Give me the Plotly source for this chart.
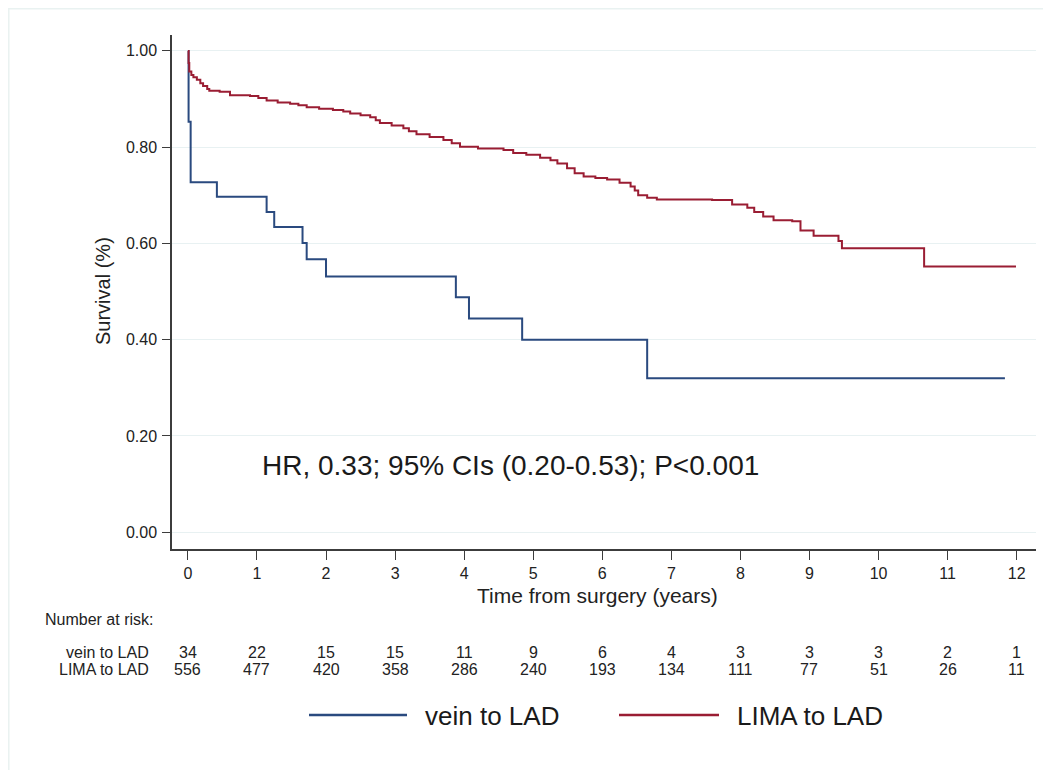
import plotly.graph_objects as go

# ---------------- data ----------------
vein_t = [0, 0.01, 0.04, 0.42, 1.14, 1.25, 1.66, 1.72, 2.0, 3.88, 4.07, 4.84, 6.65, 11.83]
vein_s = [1.0, 0.853, 0.727, 0.697, 0.665, 0.634, 0.601, 0.567, 0.531, 0.488, 0.444, 0.40, 0.32, 0.32]

lima_t = [0, 0.01, 0.02, 0.05, 0.08, 0.13, 0.18, 0.22, 0.28, 0.31, 0.46, 0.61, 0.90, 1.02, 1.14,
          1.30, 1.48, 1.60, 1.72, 1.90, 2.10, 2.25, 2.35, 2.50, 2.64, 2.72, 2.78, 2.95, 3.12,
          3.20, 3.31, 3.50, 3.70, 3.82, 3.94, 4.20, 4.57, 4.71, 4.90, 5.10, 5.25, 5.35, 5.49,
          5.60, 5.73, 5.90, 6.07, 6.25, 6.41, 6.47, 6.52, 6.65, 6.79, 7.59, 7.88, 8.10, 8.20,
          8.33, 8.48, 8.75, 8.87, 9.06, 9.42, 9.47, 10.63, 10.66, 11.99]
lima_s = [1.0, 0.975, 0.957, 0.950, 0.945, 0.940, 0.933, 0.927, 0.921, 0.917, 0.915, 0.908,
          0.906, 0.902, 0.897, 0.893, 0.890, 0.887, 0.883, 0.880, 0.877, 0.874, 0.870, 0.866,
          0.862, 0.856, 0.850, 0.845, 0.839, 0.833, 0.827, 0.821, 0.815, 0.808, 0.801, 0.797,
          0.794, 0.788, 0.784, 0.778, 0.773, 0.766, 0.756, 0.746, 0.739, 0.736, 0.733, 0.726,
          0.718, 0.710, 0.700, 0.695, 0.691, 0.690, 0.681, 0.674, 0.665, 0.656, 0.648, 0.646,
          0.627, 0.616, 0.605, 0.590, 0.590, 0.552, 0.552]

risk_times = [0, 1, 2, 3, 4, 5, 6, 7, 8, 9, 10, 11, 12]
risk_vein = [34, 22, 15, 15, 11, 9, 6, 4, 3, 3, 3, 2, 1]
risk_lima = [556, 477, 420, 358, 286, 240, 193, 134, 111, 77, 51, 26, 11]

y_ticks = [0.0, 0.2, 0.4, 0.6, 0.8, 1.0]
y_ticklabels = ["0.00", "0.20", "0.40", "0.60", "0.80", "1.00"]

series_names = ["vein to LAD", "LIMA to LAD"]
hr_text = "HR, 0.33; 95% CIs (0.20-0.53); P<0.001"

# ---------------- style ----------------
BLUE = "#2a4a7f"
RED = "#9a1d33"
AX = "#3c3c3c"
GRID = "#e8f1f2"
TXT = "#222222"
FONT = "Liberation Sans, Arial, Helvetica, sans-serif"

W, H = 1051, 770
OFF = 8  # page offset of the figure in the screenshot
L, T = 164, 27
R = W - (1036 - OFF)
B = H - (549 - OFF)
plot_w = W - L - R
plot_h = H - T - B


def xp(px):
    return ((px - OFF) - L) / plot_w


def yp(py):
    return ((H - B) - (py - OFF)) / plot_h


fig = go.Figure()
fig.add_trace(go.Scatter(x=vein_t, y=vein_s, mode="lines", line=dict(color=BLUE, width=2, shape="hv"),
                         name=series_names[0], showlegend=False))
fig.add_trace(go.Scatter(x=lima_t, y=lima_s, mode="lines", line=dict(color=RED, width=2, shape="hv"),
                         name=series_names[1], showlegend=False))

fig.update_layout(
    width=W, height=H,
    margin=dict(l=L, r=R, t=T, b=B),
    paper_bgcolor="white", plot_bgcolor="white",
    showlegend=False,
    font=dict(family=FONT, color=TXT),
)
fig.update_xaxes(
    range=[-0.23, 12.28], tickvals=risk_times, ticktext=[str(t) for t in risk_times],
    showgrid=False, zeroline=False, showline=True, linecolor=AX, linewidth=1.5,
    ticks="outside", ticklen=9, tickwidth=1.2, tickcolor=AX,
    tickfont=dict(family=FONT, size=16, color=TXT),
)
fig.update_yaxes(
    range=[-0.035, 1.033], tickvals=y_ticks, ticktext=y_ticklabels,
    showgrid=True, gridcolor=GRID, gridwidth=1.2, zeroline=False,
    showline=True, linecolor=AX, linewidth=1.5,
    ticks="outside", ticklen=8, tickwidth=1.2, tickcolor=AX,
    tickfont=dict(family=FONT, size=16, color=TXT), ticklabelstandoff=2,
)

ann = []
ann.append(dict(text="Survival (%)", xref="paper", yref="paper", x=xp(103), y=yp(291),
                showarrow=False, textangle=-90, font=dict(family=FONT, size=20, color=TXT),
                xanchor="center", yanchor="middle"))
ann.append(dict(text="Time from surgery (years)", xref="paper", yref="paper", x=xp(597), y=yp(595),
                showarrow=False, font=dict(family=FONT, size=21, color=TXT),
                xanchor="center", yanchor="middle"))
ann.append(dict(text=hr_text, xref="paper", yref="paper", x=xp(260), y=yp(465),
                showarrow=False, font=dict(family=FONT, size=28, color="#1a1a1a"),
                xanchor="left", yanchor="middle"))
ann.append(dict(text="Number at risk:", xref="paper", yref="paper", x=xp(43), y=yp(619),
                showarrow=False, font=dict(family=FONT, size=16, color=TXT),
                xanchor="left", yanchor="middle"))
for lab, py in [(series_names[0], 652), (series_names[1], 669)]:
    ann.append(dict(text=lab, xref="paper", yref="paper", x=xp(151), y=yp(py),
                    showarrow=False, font=dict(family=FONT, size=16, color=TXT),
                    xanchor="right", yanchor="middle"))
for t, v, l in zip(risk_times, risk_vein, risk_lima):
    ann.append(dict(text=str(v), xref="x", yref="paper", x=t, y=yp(652), showarrow=False,
                    font=dict(family=FONT, size=16, color=TXT), xanchor="center", yanchor="middle"))
    ann.append(dict(text=str(l), xref="x", yref="paper", x=t, y=yp(669), showarrow=False,
                    font=dict(family=FONT, size=16, color=TXT), xanchor="center", yanchor="middle"))

shapes = []
for (x0, x1, col, tx, name) in [(309, 407, BLUE, 423, series_names[0]), (619, 719, RED, 735, series_names[1])]:
    shapes.append(dict(type="line", xref="paper", yref="paper", x0=xp(x0), x1=xp(x1),
                       y0=yp(715), y1=yp(715), line=dict(color=col, width=2.5)))
    ann.append(dict(text=name, xref="paper", yref="paper", x=xp(tx), y=yp(716),
                    showarrow=False, font=dict(family=FONT, size=26, color="#1a1a1a"),
                    xanchor="left", yanchor="middle"))

# faint outer frame (top and left edges)
shapes.append(dict(type="line", xref="paper", yref="paper", x0=xp(OFF), x1=xp(W + OFF),
                   y0=yp(OFF + 0.8), y1=yp(OFF + 0.8), line=dict(color="#e9f2f1", width=1.5)))
shapes.append(dict(type="line", xref="paper", yref="paper", x0=xp(OFF + 0.8), x1=xp(OFF + 0.8),
                   y0=yp(OFF), y1=yp(H + OFF), line=dict(color="#e9f2f1", width=1.5)))

fig.update_layout(annotations=ann, shapes=shapes)
fig.write_html("out.html")
